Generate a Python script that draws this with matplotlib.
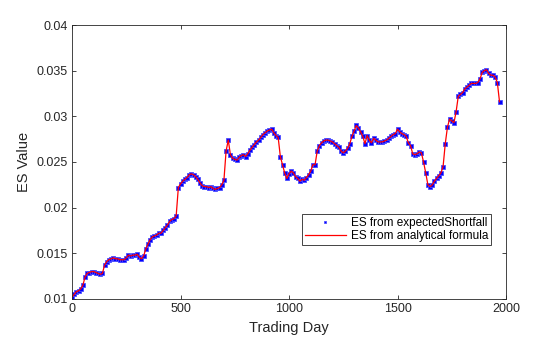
import numpy as np
import matplotlib
matplotlib.use("Agg")
import matplotlib.pyplot as plt

plt.rcParams['font.family'] = ['Liberation Sans', 'DejaVu Sans']

# ES series, sampled every 10 trading days
days = np.arange(0, 1971, 10)
es_values = [
    0.0102, 0.0105, 0.0108, 0.0109, 0.0111, 0.0115, 0.0124, 0.0128, 0.0129, 0.0130,
    0.0130, 0.0129, 0.0128, 0.0127, 0.0128, 0.0137, 0.0141, 0.0143, 0.0144, 0.0145,
    0.0144, 0.0144, 0.0143, 0.0143, 0.0143, 0.0145, 0.0148, 0.0147, 0.0148, 0.0148,
    0.0149, 0.0146, 0.0144, 0.0147, 0.0155, 0.0160, 0.0165, 0.0168, 0.0169, 0.0170,
    0.0172, 0.0172, 0.0175, 0.0178, 0.0181, 0.0185, 0.0187, 0.0188, 0.0191, 0.0222,
    0.0226, 0.0229, 0.0231, 0.0233, 0.0236, 0.0237, 0.0236, 0.0234, 0.0231, 0.0227,
    0.0224, 0.0223, 0.0223, 0.0222, 0.0223, 0.0221, 0.0220, 0.0221, 0.0222, 0.0225,
    0.0230, 0.0262, 0.0274, 0.0258, 0.0254, 0.0253, 0.0252, 0.0255, 0.0257, 0.0258,
    0.0256, 0.0259, 0.0263, 0.0266, 0.0269, 0.0272, 0.0274, 0.0277, 0.0280, 0.0282,
    0.0284, 0.0285, 0.0286, 0.0282, 0.0279, 0.0277, 0.0256, 0.0247, 0.0238, 0.0232,
    0.0237, 0.0240, 0.0238, 0.0234, 0.0232, 0.0229, 0.0231, 0.0230, 0.0233, 0.0236,
    0.0240, 0.0247, 0.0247, 0.0262, 0.0268, 0.0271, 0.0273, 0.0274, 0.0274, 0.0273,
    0.0272, 0.0270, 0.0268, 0.0266, 0.0262, 0.0260, 0.0262, 0.0265, 0.0270, 0.0278,
    0.0284, 0.0290, 0.0287, 0.0283, 0.0278, 0.0270, 0.0279, 0.0274, 0.0271, 0.0276,
    0.0274, 0.0272, 0.0272, 0.0272, 0.0273, 0.0274, 0.0276, 0.0278, 0.0280, 0.0281,
    0.0286, 0.0283, 0.0281, 0.0280, 0.0278, 0.0271, 0.0268, 0.0259, 0.0258, 0.0259,
    0.0261, 0.0260, 0.0250, 0.0238, 0.0225, 0.0223, 0.0225, 0.0229, 0.0232, 0.0235,
    0.0238, 0.0245, 0.0270, 0.0288, 0.0297, 0.0295, 0.0293, 0.0305, 0.0322, 0.0324,
    0.0326, 0.0330, 0.0332, 0.0334, 0.0336, 0.0336, 0.0336, 0.0337, 0.0341, 0.0348,
    0.0350, 0.0351, 0.0347, 0.0345, 0.0345, 0.0343, 0.0337, 0.0316,
]

xticks = [0, 500, 1000, 1500, 2000]
yticks = [0.01, 0.015, 0.02, 0.025, 0.03, 0.035, 0.04]
ytick_labels = ['0.01', '0.015', '0.02', '0.025', '0.03', '0.035', '0.04']

fig = plt.figure(figsize=(5.6, 3.37), dpi=100, facecolor='w')
ax = fig.add_axes([0.1286, 0.1128, 0.775, 0.813])

ax.plot(days, es_values, linestyle='none', marker='s', ms=2.6, color=(0, 0, 1),
        mec=(0.3, 0.3, 1), mew=0.6, label='ES from expectedShortfall')
ax.plot(days, es_values, '-', color=(1, 0, 0), lw=0.9, label='ES from analytical formula')

ax.set_xlim(0, 2000)
ax.set_ylim(0.01, 0.04)
ax.set_xticks(xticks)
ax.set_yticks(yticks)
ax.set_yticklabels(ytick_labels)
ax.tick_params(direction='in', top=True, right=True, labelsize=9, length=3,
               width=0.6, colors='#262626', pad=3)
for s in ax.spines.values():
    s.set_linewidth(0.6)
    s.set_color('#262626')

ax.set_xlabel('Trading Day', fontsize=10.5, color='#262626', labelpad=4)
ax.set_ylabel('ES Value', fontsize=10.5, color='#262626', labelpad=4)

leg = ax.legend(loc='upper left', bbox_to_anchor=(0.531, 0.309), fontsize=8.5,
                frameon=True, fancybox=False, edgecolor='#262626', framealpha=1,
                borderaxespad=0, borderpad=0.25, labelspacing=0.1,
                handlelength=3.4, handletextpad=0.45, numpoints=1)
leg.get_frame().set_linewidth(0.6)
leg.legend_handles[0].set_markersize(1.8)

fig.savefig('out.png', dpi=100)
